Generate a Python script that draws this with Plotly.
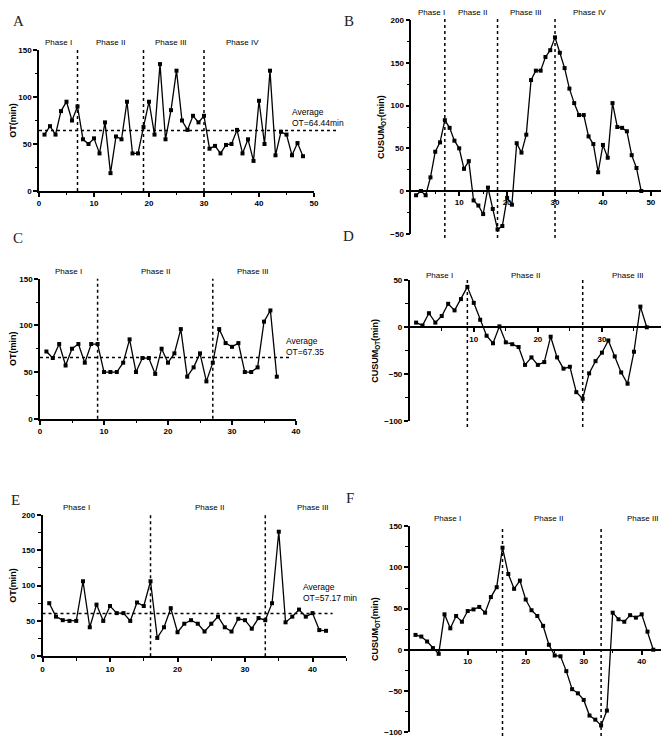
import plotly.graph_objects as go

W, H = 669, 736
FONT = "Liberation Sans"

# A: operative time per case
a_case = list(range(1, 49))
a_ot = [60, 69, 60, 85, 95, 75, 90, 55, 50, 56, 40, 73, 19, 58, 55, 95, 40, 40, 68, 95,
        60, 135, 55, 86, 128, 75, 65, 80, 73, 80, 45, 48, 40, 49, 50, 65, 40, 55, 32, 96,
        50, 128, 38, 63, 60, 38, 51, 37]
a_avg = 64.44
a_cuts = [7, 19, 30]
a_phases = ["Phase I", "Phase II", "Phase III", "Phase IV"]
a_phase_x = [3.6, 13, 24, 37]

# B: CUSUM of A
b_case = list(range(1, 49))
b_cusum = [-5, 0, -5, 16, 46, 57, 83, 74, 59, 50, 26, 35, -11, -17, -27, 4, -21, -45, -41, -8,
           -16, 56, 45, 66, 130, 141, 141, 157, 165, 180, 162, 144, 120, 103, 89, 89, 64, 55, 22, 54,
           39, 103, 75, 74, 70, 42, 27, 0]
b_cuts = [7, 18, 30]
b_phases = ["Phase I", "Phase II", "Phase III", "Phase IV"]
b_phase_x = [4.3, 12.7, 24, 37.2]

# C
c_case = list(range(1, 38))
c_ot = [72, 65, 80, 57, 75, 80, 60, 80, 80, 50, 50, 50, 60, 85, 50, 65, 65, 48, 75, 60,
        70, 96, 45, 55, 70, 40, 60, 96, 81, 77, 81, 50, 50, 55, 104, 116, 45]
c_avg = 65.5
c_cuts = [9, 27]
c_phases = ["Phase I", "Phase II", "Phase III"]
c_phase_x = [4.4, 18, 33.3]

# D
d_case = list(range(1, 38))
d_cusum = [5, 2, 15, 5, 12, 25, 18, 30, 43, 26, 8, -9, -17, 1, -16, -18, -21, -40, -32, -40,
           -37, -10, -32, -44, -42, -69, -76, -49, -36, -27, -14, -31, -48, -60, -26, 22, 0]
d_cuts = [9, 27]
d_phases = ["Phase I", "Phase II", "Phase III"]
d_phase_x = [4.6, 18, 34]

# E
e_case = list(range(1, 43))
e_ot = [75, 56, 51, 50, 50, 106, 41, 73, 50, 71, 61, 61, 50, 76, 71, 106, 26, 41, 68, 34,
        46, 51, 46, 35, 46, 56, 41, 35, 53, 51, 39, 54, 51, 75, 176, 48, 56, 66, 56, 61,
        37, 36]
e_avg = 60.5
e_cuts = [16, 33]
e_phases = ["Phase I", "Phase II", "Phase III"]
e_phase_x = [5.0, 24.8, 40]

# F
f_case = list(range(1, 43))
f_cusum = [18, 16, 10, 2, -5, 43, 26, 41, 34, 47, 49, 52, 45, 64, 76, 124, 92, 74, 84, 61,
           48, 41, 29, 6, -7, -8, -26, -48, -53, -61, -80, -85, -92, -74, 45, 37, 34, 42, 39, 43,
           22, 0]
f_cuts = [16, 33]
f_phases = ["Phase I", "Phase II", "Phase III"]
f_phase_x = [6.6, 24, 40.3]

fig = go.Figure()


def px_x(p):
    return p / W


def px_y(p):
    return 1 - p / H


def add_panel(n, xs, ys, box, xr, yr, xtick, ytick, xminor, yminor, cuts, cut_span,
              phases, phase_x, phase_py, ytitle, letter, letter_xy, cross=False,
              avg=None, avg_end=1.0, avg_text=None, avg_xy=None):
    xa = "x" if n == 1 else "x%d" % n
    ya = "y" if n == 1 else "y%d" % n
    left, right, top, bottom = box
    ydom = [px_y(bottom), px_y(top)]
    tick_font = dict(family=FONT, size=8, color="black", weight="bold")
    common = dict(showline=True, linecolor="black", linewidth=1.6, ticks="outside",
                  ticklen=4, tickwidth=1.5, tickcolor="black", showgrid=False,
                  zeroline=False, tickfont=tick_font, automargin=False, fixedrange=True)
    xaxis = dict(common, domain=[px_x(left), px_x(right)], range=xr,
                 tickmode="array", tickvals=xtick,
                 minor=dict(ticks="outside", ticklen=2.5, tickwidth=1.3, tickcolor="black",
                            tickmode="array", tickvals=xminor))
    if cross:
        # x axis crosses the y axis at zero, like the Prism original
        frac = (0 - yr[0]) / (yr[1] - yr[0])
        xaxis.update(anchor="free", position=ydom[0] + frac * (ydom[1] - ydom[0]))
    else:
        xaxis.update(anchor=ya)
    yaxis = dict(common, domain=ydom, range=yr, anchor=xa,
                 tickmode="array", tickvals=ytick,
                 minor=dict(ticks="outside", ticklen=2.5, tickwidth=1.3, tickcolor="black",
                            tickmode="array", tickvals=yminor),
                 title=dict(text=ytitle, standoff=4,
                            font=dict(family=FONT, size=9, color="black", weight="bold")))
    fig.update_layout(**{("xaxis" if n == 1 else "xaxis%d" % n): xaxis,
                         ("yaxis" if n == 1 else "yaxis%d" % n): yaxis})

    fig.add_trace(go.Scatter(x=xs, y=ys, xaxis=xa, yaxis=ya, mode="lines+markers",
                             line=dict(color="black", width=1.3),
                             marker=dict(symbol="square", size=4, color="black"),
                             cliponaxis=False, showlegend=False))

    for c in cuts:
        fig.add_shape(type="line", xref=xa, yref=ya + " domain", x0=c, x1=c,
                      y0=cut_span[0], y1=cut_span[1],
                      line=dict(color="black", width=1.5, dash="dot"))
    if avg is not None:
        fig.add_shape(type="line", xref=xa + " domain", yref=ya, x0=0, x1=avg_end,
                      y0=avg, y1=avg, line=dict(color="black", width=1.5, dash="dot"))
        fig.add_annotation(x=avg_xy[0], y=avg_xy[1], xref=xa, yref=ya, text=avg_text,
                           showarrow=False, xanchor="left", yanchor="middle", align="left",
                           font=dict(family=FONT, size=8.5, color="black"))
    for label, lx in zip(phases, phase_x):
        fig.add_annotation(x=lx, y=px_y(phase_py), xref=xa, yref="paper", text=label,
                           showarrow=False, xanchor="center", yanchor="middle",
                           font=dict(family=FONT, size=8, color="black"))
    fig.add_annotation(x=px_x(letter_xy[0]), y=px_y(letter_xy[1]), xref="paper", yref="paper",
                       text=letter, showarrow=False, xanchor="center", yanchor="middle",
                       font=dict(family="Liberation Serif", size=15, color="#222"))


ot_title = "OT(min)"
cs_title = "CUSUM<sub>OT</sub>(min)"

add_panel(1, a_case, a_ot, (31, 306, 42, 183), [0, 50], [0, 150],
          [0, 10, 20, 30, 40, 50], [0, 50, 100, 150],
          [5, 15, 25, 35, 45], [25, 75, 125], a_cuts, (0, 1),
          a_phases, a_phase_x, 35, ot_title, "A", (10, 13),
          avg=a_avg, avg_end=1.087, avg_text="Average<br>OT=64.44min", avg_xy=(45.6, 78))

add_panel(2, b_case, b_cusum, (403.3, 666.8, 12.3, 225.7), [0, 55], [-50, 200],
          [10, 20, 30, 40, 50], [-50, 0, 50, 100, 150, 200],
          [5, 15, 25, 35, 45, 55], [-25, 25, 75, 125, 175], b_cuts, (-0.02, 1.01),
          b_phases, b_phase_x, 5, cs_title, "B", (341, 13), cross=True)

add_panel(3, c_case, c_ot, (32, 288, 270.7, 410.7), [0, 40], [0, 150],
          [0, 10, 20, 30, 40], [0, 50, 100, 150],
          [5, 15, 25, 35], [25, 75, 125], c_cuts, (0, 1),
          c_phases, c_phase_x, 263, ot_title, "C", (10, 230),
          avg=c_avg, avg_end=0.98, avg_text="Average<br>OT=67.35", avg_xy=(38.1, 77.4))

add_panel(4, d_case, d_cusum, (401.7, 658, 272.3, 413.3), [0, 40], [-100, 50],
          [10, 20, 30, 40], [-100, -50, 0, 50],
          [5, 15, 25, 35], [-75, -25, 25], d_cuts, (-0.04, 1.015),
          d_phases, d_phase_x, 267, cs_title, "D", (341, 228), cross=True)

add_panel(5, e_case, e_ot, (34.5, 338.3, 506.7, 648.3), [0, 45], [0, 200],
          [0, 10, 20, 30, 40], [0, 50, 100, 150, 200],
          [5, 15, 25, 35, 45], [25, 75, 125, 175], e_cuts, (0, 1),
          e_phases, e_phase_x, 499, ot_title, "E", (7.5, 492),
          avg=e_avg, avg_end=0.955, avg_text="Average<br>OT=57.17 min", avg_xy=(38.3, 90.8))

add_panel(6, f_case, f_cusum, (401.7, 662.7, 518.3, 724), [0, 45], [-100, 150],
          [10, 20, 30, 40], [-100, -50, 0, 50, 100, 150],
          [5, 15, 25, 35, 45], [-75, -25, 25, 75, 125], f_cuts, (-0.02, 1.0),
          f_phases, f_phase_x, 511, cs_title, "F", (342, 490), cross=True)

fig.update_layout(width=W, height=H, margin=dict(l=0, r=0, t=0, b=0),
                  paper_bgcolor="white", plot_bgcolor="white", showlegend=False)

fig.write_html("out.html")
